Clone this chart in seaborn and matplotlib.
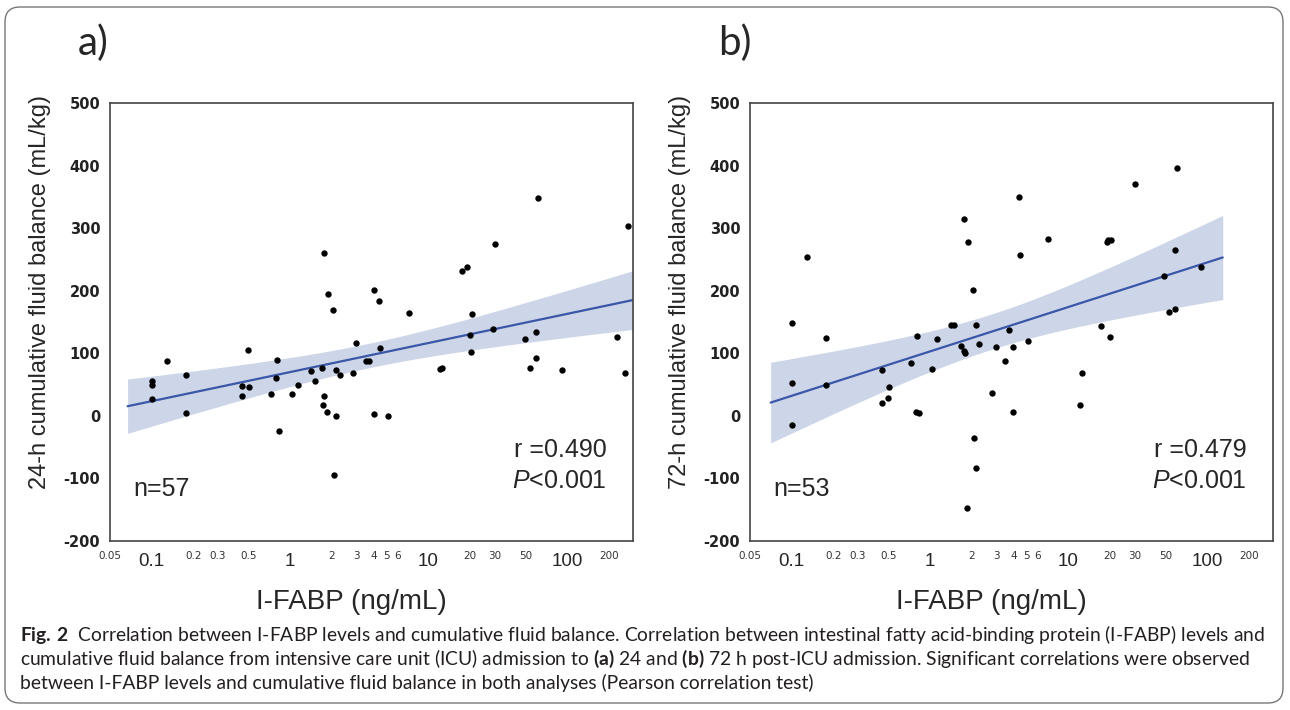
import numpy as np
import pandas as pd
import matplotlib
matplotlib.use("Agg")
import matplotlib.pyplot as plt
import seaborn as sns
from matplotlib.patches import FancyBboxPatch
from matplotlib.ticker import FixedLocator, FixedFormatter

# panel a: 24-h cumulative fluid balance vs I-FABP
a_fabp = [0.1, 0.1, 0.1, 0.129, 0.176, 0.178, 0.452, 0.452, 0.495, 0.507,
          0.723, 0.805, 0.796, 0.825, 1.04, 1.14, 1.42, 1.51, 1.69, 1.77,
          1.77, 1.74, 1.86, 1.89, 2.05, 2.16, 2.28, 2.16, 2.08, 2.85,
          3.0, 3.52, 3.73, 4.03, 4.02, 4.42, 4.47, 5.13, 7.18, 12.2,
          12.6, 17.5, 19.1, 20.0, 20.2, 20.6, 29.3, 30.4, 49.8, 54.2,
          59.3, 59.5, 61.8, 91.9, 229, 263, 278]
a_fb = [56, 49, 27, 88, 65, 4, 47, 32, 105, 46,
        35, 89, 61, -24, 35, 50, 71, 56, 77, 260,
        32, 17, 6, 194, 169, 73, 65, 0, -95, 68,
        117, 87, 87, 201, 3, 183, 108, -1, 164, 75,
        77, 232, 238, 129, 102, 162, 139, 274, 123, 76,
        134, 93, 348, 74, 126, 69, 303]

# panel b: 72-h cumulative fluid balance vs I-FABP
b_fabp = [0.1, 0.1, 0.1, 0.129, 0.176, 0.178, 0.451, 0.451, 0.493, 0.505,
          0.723, 0.801, 0.791, 0.83, 1.03, 1.13, 1.42, 1.50, 1.67, 1.75,
          1.80, 1.77, 1.88, 1.85, 2.03, 2.07, 2.14, 2.14, 2.26, 2.82,
          2.98, 3.48, 3.70, 3.97, 4.0, 4.37, 4.43, 5.08, 7.11, 12.1,
          12.6, 17.3, 18.9, 19.3, 20.3, 20.0, 30.1, 49.3, 53.3, 58.7,
          58.7, 61.1, 90.8]
b_fb = [148, 52, -14, 254, 124, 49, 73, 20, 28, 46,
        85, 128, 6, 5, 75, 123, 146, 146, 111, 103,
        100, 315, 278, -148, 201, -36, 145, -84, 115, 36,
        110, 88, 137, 6, 110, 349, 257, 120, 282, 18,
        69, 143, 278, 281, 281, 126, 370, 224, 166, 265,
        170, 396, 238]

major_ticks = [0.1, 1, 10, 100]
major_labels = ["0.1", "1", "10", "100"]
minor_ticks = [0.05, 0.06, 0.07, 0.08, 0.09,
               0.2, 0.3, 0.4, 0.5, 0.6, 0.7, 0.8, 0.9,
               2, 3, 4, 5, 6, 7, 8, 9,
               20, 30, 40, 50, 60, 70, 80, 90, 200]
minor_labels = ["0.05", "", "", "", "",
                "0.2", "0.3", "", "0.5", "", "", "", "",
                "2", "3", "4", "5", "6", "", "", "",
                "20", "30", "", "50", "", "", "", "", "200"]
y_ticks = [-200, -100, 0, 100, 200, 300, 400, 500]

sns.set_style("white")
plt.rcParams["font.family"] = ["Liberation Sans", "DejaVu Sans"]
plt.rcParams["mathtext.fontset"] = "custom"
plt.rcParams["mathtext.rm"] = "Lato"
plt.rcParams["mathtext.bf"] = "Lato:bold"
plt.rcParams["mathtext.it"] = "Liberation Sans:italic"

W, H = 1290, 710


def fx(px):
    return px / W


def fy(py):
    return 1 - py / H


def fit_band(x, y, lo, hi):
    lx = np.log10(np.asarray(x, float))
    y = np.asarray(y, float)
    slope, icpt = np.polyfit(lx, y, 1)
    n = len(lx)
    resid = y - (icpt + slope * lx)
    s = np.sqrt(np.sum(resid ** 2) / (n - 2))
    sxx = np.sum((lx - lx.mean()) ** 2)
    g = np.linspace(np.log10(lo), np.log10(hi), 200)
    se = s * np.sqrt(1 / n + (g - lx.mean()) ** 2 / sxx)
    fit = icpt + slope * g
    return 10 ** g, fit, fit - 2.0 * se, fit + 2.0 * se


fig = plt.figure(figsize=(W / 100, H / 100), dpi=100)

panels = [
    (a_fabp, a_fb, 110, 0.067, 300, "a)", 78,
     "24-h cumulative fluid balance (mL/kg)", "n=57", "r =0.490"),
    (b_fabp, b_fb, 750, 0.0705, 130, "b)", 718,
     "72-h cumulative fluid balance (mL/kg)", "n=53", "r =0.479"),
]

for xs, ys, left, lo, hi, tag, tag_x, ylab, ntxt, rtxt in panels:
    ax = fig.add_axes([fx(left), fy(541), 523 / W, 438 / H])
    df = pd.DataFrame({"fabp": xs, "fb": ys})

    gx, fit, low, up = fit_band(xs, ys, lo, hi)
    ax.fill_between(gx, low, up, color="#cdd5e9", linewidth=0, zorder=1)
    ax.plot(gx, fit, color="#3b57a8", lw=1.6, zorder=2)
    sns.scatterplot(data=df, x="fabp", y="fb", ax=ax, color="black",
                    s=21, linewidth=0, zorder=3)

    ax.set_xscale("log")
    ax.set_xlim(0.05, 300)
    ax.set_ylim(-200, 500)
    ax.set_xlabel("")
    ax.set_ylabel("")

    ax.xaxis.set_major_locator(FixedLocator(major_ticks))
    ax.xaxis.set_major_formatter(FixedFormatter(major_labels))
    ax.xaxis.set_minor_locator(FixedLocator(minor_ticks))
    ax.xaxis.set_minor_formatter(FixedFormatter(minor_labels))
    ax.set_yticks(y_ticks)
    ax.set_yticklabels([str(v) for v in y_ticks])

    ax.tick_params(axis="x", which="major", direction="out", length=5,
                   width=1, color="#444", pad=4, labelsize=13.5)
    ax.tick_params(axis="x", which="minor", direction="out", length=4,
                   width=1, color="#444", pad=3, labelsize=7.5,
                   labelcolor="#333")
    ax.tick_params(axis="y", direction="out", length=5, width=1,
                   color="#444", pad=2, labelsize=10.5)
    for lab in ax.get_yticklabels():
        lab.set_fontfamily("DejaVu Sans")
        lab.set_fontweight("bold")
        lab.set_color("#222")
    for lab in ax.get_xticklabels(minor=True):
        lab.set_fontfamily("DejaVu Sans")

    for sp in ax.spines.values():
        sp.set_color("#444")
        sp.set_linewidth(1.2)

    ax.text(0.045, 0.118, ntxt, transform=ax.transAxes, fontsize=18,
            ha="left", va="center")
    ax.text(0.95, 0.208, rtxt, transform=ax.transAxes, fontsize=18,
            ha="right", va="center")
    ax.text(0.95, 0.138, r"$\mathit{P}$<0.001", transform=ax.transAxes,
            fontsize=18, ha="right", va="center")

    fig.text(fx(tag_x), fy(43), tag, fontsize=29, family="Lato",
             ha="left", va="center")
    fig.text(fx(left - 70), fy(292), ylab, fontsize=17, rotation=90,
             ha="center", va="center")
    fig.text(fx(left + 241), fy(602), "I-FABP (ng/mL)", fontsize=20,
             ha="center", va="center")

caption = [
    r"$\mathbf{Fig.\,2}$  Correlation between I-FABP levels and cumulative fluid balance. "
    r"Correlation between intestinal fatty acid-binding protein (I-FABP) levels and",
    r"cumulative fluid balance from intensive care unit (ICU) admission to "
    r"$\mathbf{(a)}$ 24 and $\mathbf{(b)}$ 72 h post-ICU admission. "
    r"Significant correlations were observed",
    "between I-FABP levels and cumulative fluid balance in both analyses "
    "(Pearson correlation test)",
]
for i, line in enumerate(caption):
    fig.text(fx(20), fy(641 + 24 * i), line, fontsize=13.9, family="Lato",
             color="#231f20", ha="left", va="baseline")

frame = FancyBboxPatch((0.05, 0.07), 12.78, 6.96,
                       boxstyle="round,pad=0,rounding_size=0.15",
                       transform=fig.dpi_scale_trans, facecolor="none",
                       edgecolor="#777", linewidth=1)
fig.patches.append(frame)

fig.savefig("out.png", dpi=100)
